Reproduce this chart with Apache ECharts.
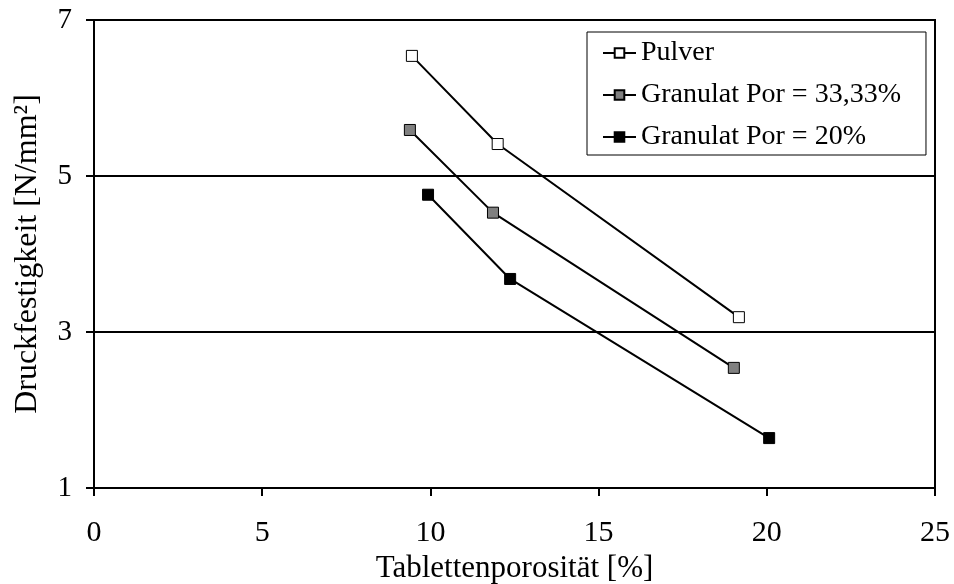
<!DOCTYPE html>
<html><head><meta charset="utf-8">
<script src="https://cdn.jsdelivr.net/npm/echarts@6/dist/echarts.min.js"></script>
<style>html,body{margin:0;padding:0;background:#fff}#c{width:954px;height:584px}</style>
</head><body><div id="c"></div>
<script>
const seriesNames = ['Pulver', 'Granulat Por = 33,33%', 'Granulat Por = 20%'];
const pulverX = [9.45, 12.0, 19.17];
const pulverY = [6.54, 5.41, 3.19];
const gran33X = [9.39, 11.86, 19.02];
const gran33Y = [5.59, 4.53, 2.54];
const gran20X = [9.93, 12.37, 20.07];
const gran20Y = [4.76, 3.68, 1.64];
const xTicks = [0, 5, 10, 15, 20, 25];
const yTicks = [1, 3, 5, 7];

const font = 'Liberation Serif';
const fills = ['#ffffff', '#808080', '#000000'];
const xs = [pulverX, gran33X, gran20X];
const ys = [pulverY, gran33Y, gran20Y];

const chart = echarts.init(document.getElementById('c'));
chart.setOption({
  animation: false,
  backgroundColor: '#fff',
  grid: {left: 94, right: 19, top: 20, bottom: 96, show: true, borderColor: '#000', borderWidth: 2,
         containLabel: false, outerBoundsMode: 'none'},
  legend: {
    orient: 'vertical', left: 587, top: 32,
    borderColor: '#000', borderWidth: 1, padding: [7, 25, 4, 15],
    itemGap: 14, itemWidth: 33, itemHeight: 12,
    textStyle: {fontFamily: font, fontSize: 28, color: '#000'},
    data: seriesNames
  },
  xAxis: {
    type: 'value', min: 0, max: 25, interval: 5,
    name: 'Tablettenporosität [%]', nameLocation: 'middle', nameGap: 63,
    nameTextStyle: {fontFamily: font, fontSize: 31, color: '#000'},
    axisLine: {lineStyle: {color: '#000', width: 2}},
    axisTick: {show: true, length: 8, lineStyle: {color: '#000', width: 2}},
    axisLabel: {fontFamily: font, fontSize: 30, color: '#000', margin: 30,
      formatter: v => xTicks.includes(v) ? String(v) : ''},
    splitLine: {show: false}
  },
  yAxis: {
    type: 'value', min: 1, max: 7, interval: 2,
    name: 'Druckfestigkeit [N/mm²]', nameLocation: 'middle', nameGap: 50,
    nameTextStyle: {fontFamily: font, fontSize: 32, color: '#000'},
    axisLine: {lineStyle: {color: '#000', width: 2}},
    axisTick: {show: true, length: 8, lineStyle: {color: '#000', width: 2}},
    axisLabel: {fontFamily: font, fontSize: 29, color: '#000', margin: 22,
      formatter: v => yTicks.includes(v) ? String(v) : ''},
    splitLine: {show: true, lineStyle: {color: '#000', width: 2}}
  },
  series: seriesNames.map((n, i) => ({
    name: n, type: 'line',
    data: xs[i].map((x, j) => [x, ys[i][j]]),
    symbol: 'rect', symbolSize: 11,
    lineStyle: {color: '#000', width: 2},
    itemStyle: {color: fills[i], borderColor: '#000', borderWidth: 1},
    color: fills[i]
  }))
});
</script></body></html>
